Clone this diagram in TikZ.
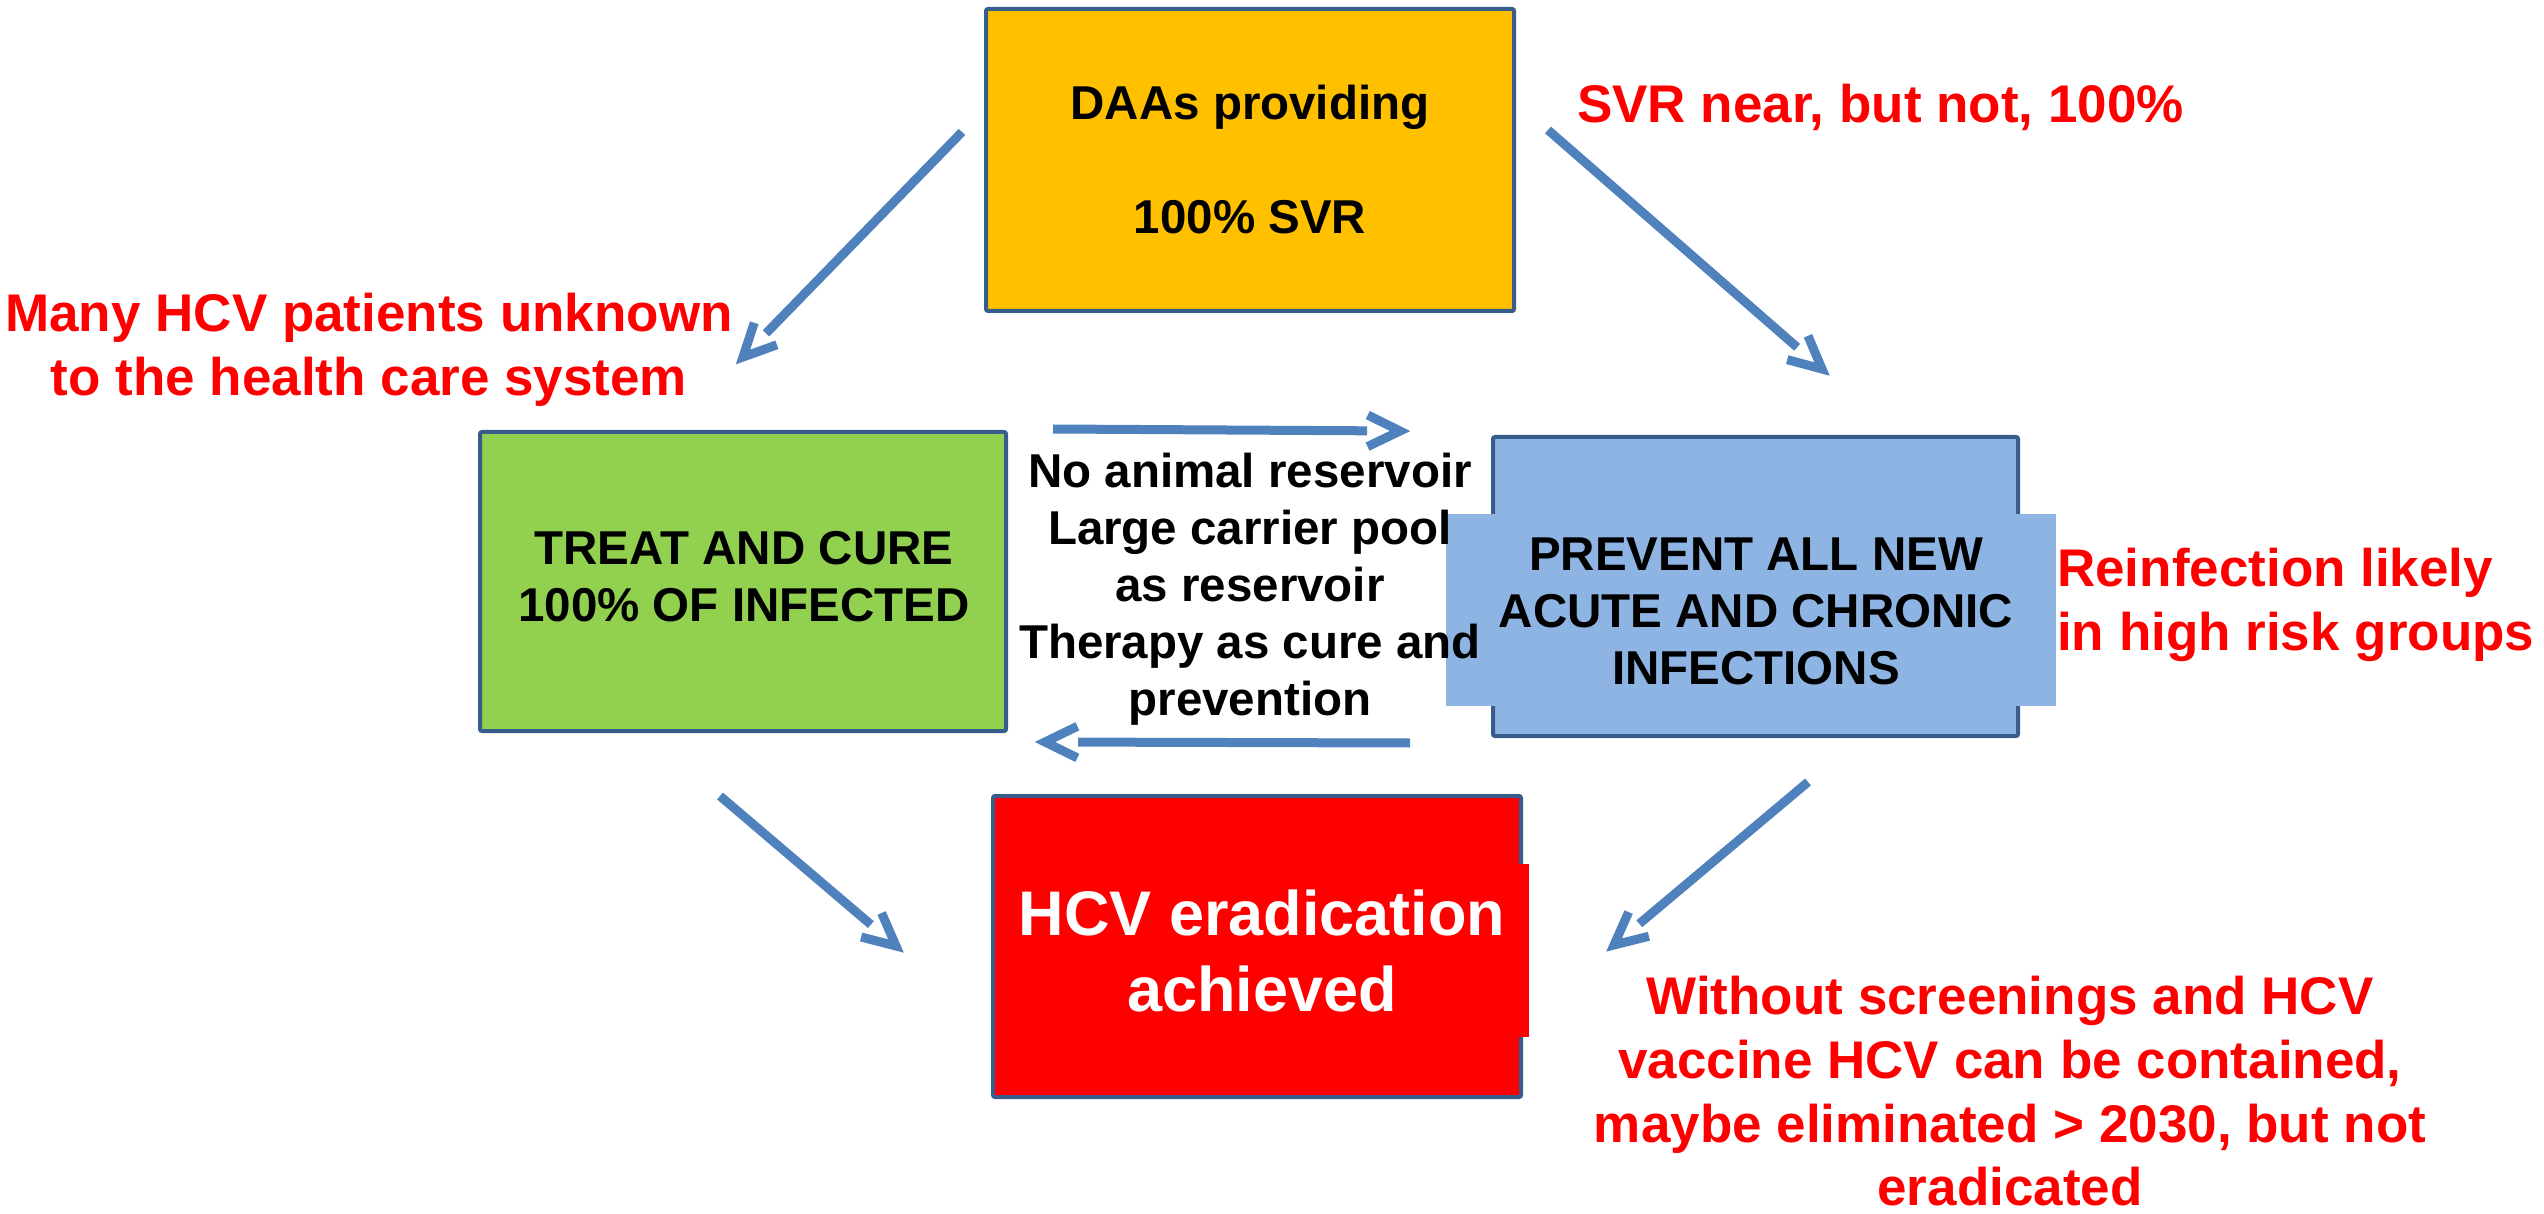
\documentclass[tikz,border=0pt]{standalone}
\usepackage{fontspec}
\setmainfont{Liberation Sans}
\usetikzlibrary{calc}
\definecolor{boxorange}{HTML}{FFC000}
\definecolor{boxgreen}{HTML}{92D050}
\definecolor{boxblue}{HTML}{8EB4E3}
\definecolor{boxred}{HTML}{FF0000}
\definecolor{bordc}{HTML}{385D8A}
\definecolor{arrc}{HTML}{4F81BD}
\definecolor{notered}{HTML}{FF0000}
\tikzset{
  box/.style={draw=bordc, line width=4pt, rounded corners=2pt, inner sep=0pt},
  patch/.style={inner sep=0pt, draw=none},
  boxtxt/.style={font=\fontsize{47.5}{57}\selectfont\bfseries, align=center, inner sep=0pt,
    execute at begin node=\strut, execute at end node=\strut},
  bigtxt/.style={font=\fontsize{63}{75.6}\selectfont\bfseries, align=center, inner sep=0pt, text=white,
    execute at begin node=\strut, execute at end node=\strut},
  notetxt/.style={font=\fontsize{53}{63.6}\selectfont\bfseries, inner sep=0pt, text=notered,
    execute at begin node=\strut, execute at end node=\strut},
  arr/.style={draw=arrc, line width=9pt, line cap=butt},
  arrhead/.style={draw=arrc, line width=9pt, line cap=butt, line join=miter, miter limit=10}
}
\newcommand\chevarrow[2]{%
  \draw[arr] (#1) -- ($(#2)!33pt!(#1)$);
  \draw[arrhead] ($(#2)!36pt!26:(#1)$) -- (#2) -- ($(#2)!36pt!-26:(#1)$);
}
\begin{document}
\begin{tikzpicture}[x=1pt, y=-1pt]
\useasboundingbox[fill=white] (0,0) rectangle (2544,1214);

% boxes
\node[box, fill=boxorange, minimum width=528pt, minimum height=302pt] (daa) at (1250,160) {};
\node[box, fill=boxgreen, minimum width=526pt, minimum height=299pt] (treat) at (743,581.5) {};
\node[box, fill=boxblue, minimum width=525pt, minimum height=299pt] (prevent) at (1755.5,586.5) {};
\node[box, fill=boxred, minimum width=528pt, minimum height=301pt] (erad) at (1257,946.5) {};

% text-box patches over the borders
\fill[boxblue] (1446,514) rectangle (2056,706);
\fill[boxred] (1000,864) rectangle (1529,1037);

% box texts
\node[boxtxt] (daatxt) at (1250,167.6) {DAAs providing\\\mbox{}\\100\% SVR};
\node[boxtxt] (treattxt) at (744,585.1) {TREAT AND CURE\\100\% OF INFECTED};
\node[boxtxt] (preventtxt) at (1756,619.6) {PREVENT ALL NEW\\ACUTE AND CHRONIC\\INFECTIONS};
\node[bigtxt] (eradtxt) at (1262,962.3) {HCV eradication\\achieved};
\node[boxtxt] (midtxt) at (1250,592.6) {No animal reservoir\\Large carrier pool\\as reservoir\\Therapy as cure and\\prevention};

% red notes
\node[notetxt, anchor=west] (svr) at (1577,109.3) {SVR near, but not, 100\%};
\node[notetxt, align=center] (unknown) at (369,354.1) {Many HCV patients unknown\\to the health care system};
\node[notetxt, align=left, anchor=west] (reinf) at (2057,609.1) {Reinfection likely\\in high risk groups};
\node[notetxt, align=center] (screen) at (2010,1100.7) {Without screenings and HCV\\vaccine HCV can be contained,\\maybe eliminated > 2030, but not\\eradicated};

% arrow end points
\coordinate (tlS) at (962,132);  \coordinate (tlT) at (743,357);
\coordinate (trS) at (1548,130); \coordinate (trT) at (1822,369);
\coordinate (hrS) at (1053,429); \coordinate (hrT) at (1400,431);
\coordinate (hlS) at (1410,743); \coordinate (hlT) at (1045,742);
\coordinate (blS) at (720,796);  \coordinate (blT) at (896,946);
\coordinate (brS) at (1808,782); \coordinate (brT) at (1614,945);

\chevarrow{tlS}{tlT}
\chevarrow{trS}{trT}
\chevarrow{hrS}{hrT}
\chevarrow{hlS}{hlT}
\chevarrow{blS}{blT}
\chevarrow{brS}{brT}
\end{tikzpicture}
\end{document}
